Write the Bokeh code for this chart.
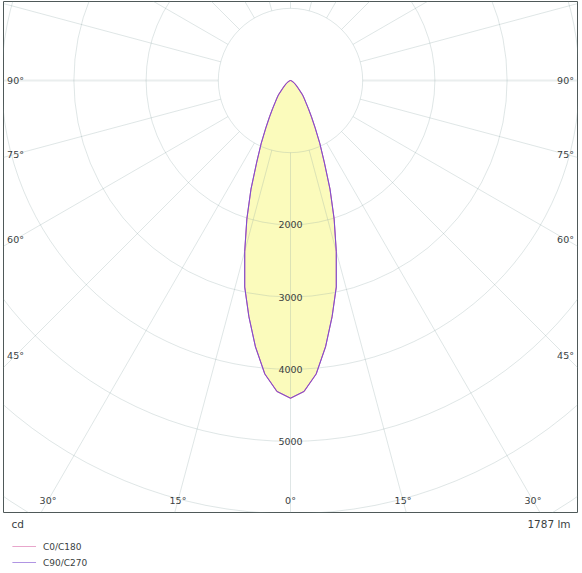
import numpy as np
from bokeh.plotting import figure
from bokeh.models import Range1d
from bokeh.layouts import column
from bokeh.embed import file_html
from bokeh.resources import INLINE
from bokeh.core.properties import value

# ---------------- data ----------------
gamma_deg = [0, 2.5, 5, 7.5, 10, 12.5, 15, 17.5, 20, 22.5, 25, 27.5, 30, 32.5, 35, 37.5, 40,
             45, 50, 55, 60, 65, 70, 75, 80, 85, 90]
c0_c180 = [4400, 4310, 4080, 3720, 3320, 2930, 2450, 2010, 1600, 1220, 960, 740, 580, 460, 370, 310, 260,
           150, 100, 65, 40, 25, 14, 8, 4, 1, 0]
c90_c270 = [4400, 4310, 4080, 3720, 3320, 2930, 2450, 2010, 1600, 1220, 960, 740, 580, 460, 370, 310, 260,
            150, 100, 65, 40, 25, 14, 8, 4, 1, 0]
series_names = ["C0/C180", "C90/C270"]
ring_values = [1000, 2000, 3000, 4000, 5000, 6000, 7000, 8000]
ring_label_values = [2000, 3000, 4000, 5000]
ring_label_texts = ["2000", "3000", "4000", "5000"]
spoke_angles = list(range(0, 360, 15))
angle_label_values = [0, 15, 30, 45, 60, 75, 90]
angle_label_texts = ["0°", "15°", "30°", "45°", "60°", "75°", "90°"]
unit_text = "cd"
flux_text = "1787 lm"

# ---------------- styling / layout ----------------
FONT = value("DejaVu Sans")
TXT = "#3a3f3f"
GRID = "#8aa2a2"
PINK = "#d86aa8"
PURPLE = "#7b4fd0"
FILL = "#fbfbbc"
PX = 72.2 / 1000.0            # pixels per cd
W = 582
H_MAIN = 515
H_BOT = 58
FL, FR, FT, FB = 3, 577, 1, 512   # frame edges in page px
CX, CY = 290, 80                  # pole position in page px

x0 = (FL - CX) / PX
x1 = (FR - CX) / PX
y1 = (CY - FT) / PX
y0 = -(FB - CY) / PX

p = figure(width=W, height=H_MAIN, x_range=Range1d(x0, x1), y_range=Range1d(y0, y1),
           x_axis_type=None, y_axis_type=None, output_backend="svg",
           toolbar_location=None, min_border_left=FL, min_border_right=W - FR,
           min_border_top=FT, min_border_bottom=H_MAIN - FB)
p.grid.visible = False
p.outline_line_color = "#4f5959"
p.outline_line_width = 1
p.background_fill_color = "white"
p.border_fill_color = "white"

# ---- light distribution curve (both halves of the plane) ----
def outline(vals):
    g = np.radians(np.array(gamma_deg, dtype=float))
    v = np.array(vals, dtype=float)
    ga = np.concatenate([-g[::-1], g[1:]])
    va = np.concatenate([v[::-1], v[1:]])
    return va * np.sin(ga), -va * np.cos(ga)

fx, fy = outline(c0_c180)
p.patch(fx, fy, fill_color=FILL, line_color=None)

# ---- polar grid ----
p.circle(x=0, y=0, radius=ring_values, fill_color=None, line_color=GRID,
         line_alpha=0.27, line_width=1)
r_in, r_out = ring_values[0], ring_values[-1] * 1.5
main = [a for a in spoke_angles if a % 180 != 90]
wide = [a for a in spoke_angles if a % 180 == 90]
for sel, lw, al in ((main, 1, 0.27), (wide, 2, 0.18)):
    a = np.radians(np.array(sel, dtype=float))
    p.segment(x0=r_in * np.sin(a), y0=-r_in * np.cos(a),
              x1=r_out * np.sin(a), y1=-r_out * np.cos(a),
              line_color=GRID, line_alpha=al, line_width=lw)

# ---- curves ----
cx_, cy_ = outline(c0_c180)
p.line(cx_, cy_, line_color=PINK, line_width=1.1)
cx2, cy2 = outline(c90_c270)
p.line(cx2, cy2, line_color=PURPLE, line_width=1.0)

# ---- ring labels ----
p.text(x=[0] * len(ring_label_values), y=[-v for v in ring_label_values],
       text=ring_label_texts, text_font=FONT, text_font_size="9.5px",
       text_color=TXT, text_align="center", text_baseline="middle")

# ---- angle labels ----
xl = (CX - 15) / PX
yl = -(500 - CY) / PX
lx, ly, lt = [], [], []
for a, t in zip(angle_label_values, angle_label_texts):
    ar = np.radians(a)
    if a == 0:
        lx.append(0.0); ly.append(yl); lt.append(t)
        continue
    ys = -xl * np.cos(ar) / np.sin(ar)
    if ys >= yl:
        pts = [(-xl, ys), (xl, ys)]
    else:
        xb = -yl * np.tan(ar)
        pts = [(-xb, yl), (xb, yl)]
    for (a_, b_) in pts:
        lx.append(a_); ly.append(b_); lt.append(t)
p.text(x=lx, y=ly, text=lt, text_font=FONT, text_font_size="9.5px",
       text_color=TXT, text_align="center", text_baseline="middle")

# ---------------- bottom strip: unit, flux, legend ----------------
b = figure(width=W, height=H_BOT, x_range=Range1d(0, W), y_range=Range1d(H_BOT, 0),
           x_axis_type=None, y_axis_type=None, output_backend="svg",
           toolbar_location=None, min_border=0)
b.grid.visible = False
b.outline_line_color = None
b.text(x=[8], y=[8], text=[unit_text], text_font=FONT, text_font_size="10.5px",
       text_color=TXT, text_align="left", text_baseline="middle")
b.text(x=[575], y=[8], text=[flux_text], text_font=FONT, text_font_size="10.5px",
       text_color=TXT, text_align="right", text_baseline="middle")
leg_y = [31, 47]
b.segment(x0=[9, 9], y0=leg_y, x1=[33, 33], y1=leg_y,
          line_color=[PINK, PURPLE], line_alpha=0.6, line_width=1)
b.text(x=[40, 40], y=leg_y, text=series_names, text_font=FONT,
       text_font_size="9px", text_color=TXT, text_align="left", text_baseline="middle")

root = column(p, b, spacing=0)
open("out.html", "w").write(file_html(root, INLINE))
